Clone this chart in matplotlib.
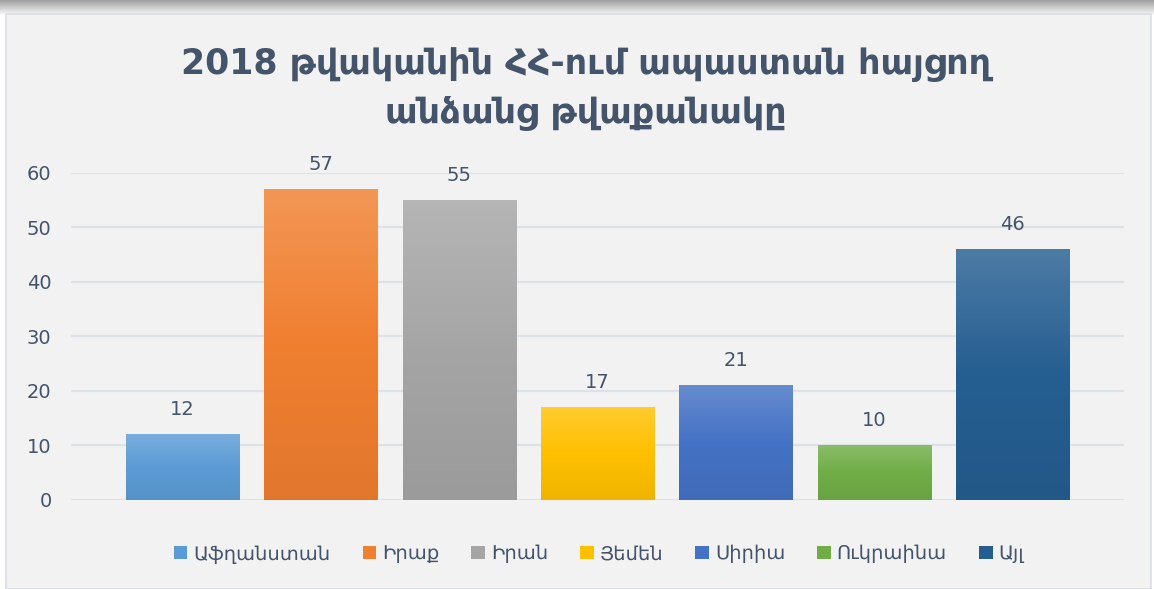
import numpy as np
import matplotlib
matplotlib.use("Agg")
import matplotlib.pyplot as plt
from matplotlib import colors as mcolors
from matplotlib.patches import Rectangle, Patch

categories = ["Աֆղանստան", "Իրաք", "Իրան", "Յեմեն", "Սիրիա", "Ուկրաինա", "Այլ"]
values = [12, 57, 55, 17, 21, 10, 46]
bar_colors = ["#5b9bd5", "#f07f30", "#a5a5a5", "#ffc000", "#4472c4", "#70ad47", "#255e91"]
title = "2018 թվականին ՀՀ-ում ապաստան հայցող\nանձանց թվաքանակը"
yticks = [0, 10, 20, 30, 40, 50, 60]

text_col = "#44546a"
plt.rcParams["font.family"] = ["DejaVu Sans"]

W, H = 1154, 589
fig = plt.figure(figsize=(W / 100, H / 100), dpi=100, facecolor="white")

# chart panel with a soft shadow on top
shadow = np.linspace(1.0, 0.0, 40).reshape(-1, 1)
sh_ax = fig.add_axes([0, (H - 16) / H, 1, 16 / H], zorder=-2)
sh_ax.imshow(shadow, cmap=mcolors.LinearSegmentedColormap.from_list("s", ["#ffffff", "#a0a0a0"]),
             aspect="auto", extent=[0, 1, 0, 1])
sh_ax.axis("off")
fig.patches.append(Rectangle((6 / W, 0), (W - 9) / W, (H - 14) / H, transform=fig.transFigure,
                             facecolor="#f2f2f2", edgecolor="#d9dde3", lw=1.2, zorder=-1))

ax = fig.add_axes([71 / W, (H - 499.7) / H, (1124 - 71) / W, (499.7 - 172.7) / H], zorder=1)
ax.set_facecolor("none")
x = np.arange(len(categories))
bw = 0.817
bars = ax.bar(x, values, width=bw, color=bar_colors, zorder=2)

def shade(c, f):
    r = np.array(mcolors.to_rgb(c))
    if f > 0:
        return tuple(r + (1 - r) * f)
    return tuple(r * (1 + f))

# vertical gradient fill, light on top, slightly darker at the base
for b, c in zip(bars, bar_colors):
    cmap = mcolors.LinearSegmentedColormap.from_list(
        "g", [shade(c, -0.06), c, shade(c, 0.18)])
    grad = np.linspace(0, 1, 100).reshape(-1, 1)
    x0, y0 = b.get_x(), b.get_y()
    im = ax.imshow(grad, cmap=cmap, origin="lower", aspect="auto",
                   extent=[x0, x0 + b.get_width(), y0, y0 + b.get_height()], zorder=3)
    im.set_clip_path(b)

for xi, v in zip(x, values):
    ax.annotate(str(v), (xi, v), xytext=(0, 11), textcoords="offset points",
                ha="center", va="bottom", fontsize=14, color=text_col)

ax.set_xlim(-0.806, 6.806)
ax.set_ylim(0, 60)
ax.set_yticks(yticks)
ax.set_xticks([])
ax.tick_params(axis="y", length=0, labelsize=14, labelcolor=text_col, pad=14)
ax.grid(axis="y", color="#dde2e8", lw=1.6, zorder=1)
ax.set_axisbelow(True)
for s in ax.spines.values():
    s.set_visible(False)

fig.text(0.508, (H - 89) / H, title, ha="center", va="center", fontsize=25,
         fontweight="bold", color=text_col, linespacing=1.55)

handles = [Patch(facecolor=c, label=l) for c, l in zip(bar_colors, categories)]
fig.legend(handles=handles, loc="center", bbox_to_anchor=(0.519, (H - 554) / H), ncol=7,
           frameon=False, fontsize=14, labelcolor=text_col, handlelength=0.7,
           handleheight=0.7, handletextpad=0.3, columnspacing=1.65)

fig.savefig("out.png", dpi=100, facecolor="white")
